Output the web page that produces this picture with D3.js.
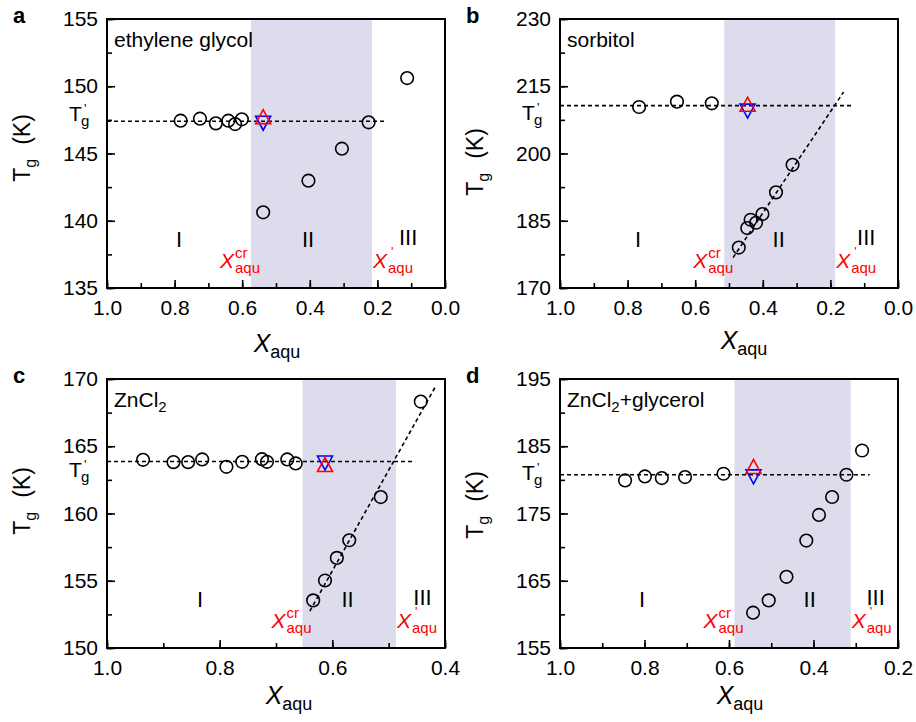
<!DOCTYPE html>
<html>
<head>
<meta charset="utf-8">
<script src="https://cdn.jsdelivr.net/npm/d3@7"></script>
<style>
  body { margin: 0; background: #fff; }
  svg text { font-family: "Liberation Sans", Arial, sans-serif; }
</style>
</head>
<body>
<div id="wrapper"></div>
<script>
// 1. Data

// a: ethylene glycol
const egX  = [0.782, 0.725, 0.678, 0.641, 0.621, 0.601, 0.538, 0.404, 0.305, 0.226, 0.112];
const egTg = [147.44, 147.59, 147.24, 147.44, 147.19, 147.54, 140.63, 142.98, 145.36, 147.32, 150.61];
const egRegion = [0.574, 0.216];
const egTgPrime = 147.4;
const egTriangle = [0.538, 147.74, 147.25]; // x, up (red), down (blue)

// b: sorbitol
const sorbX  = [0.766, 0.654, 0.551, 0.471, 0.446, 0.436, 0.420, 0.401, 0.361, 0.312];
const sorbTg = [210.37, 211.57, 211.19, 179.02, 183.36, 185.22, 184.55, 186.49, 191.33, 197.47];
const sorbRegion = [0.514, 0.186];
const sorbTgPrime = 210.68;
const sorbTriangle = [0.445, 211.0, 209.45];
const sorbFit = [[0.488, 176.78], [0.161, 213.72]];

// c: ZnCl2
const zncX  = [0.936, 0.882, 0.856, 0.831, 0.788, 0.760, 0.725, 0.716, 0.680, 0.665,
               0.634, 0.613, 0.592, 0.570, 0.514, 0.443];
const zncTg = [163.99, 163.82, 163.82, 164.02, 163.47, 163.84, 164.04, 163.84, 164.02, 163.72,
               153.54, 155.02, 156.70, 158.01, 161.22, 168.32];
const zncRegion = [0.653, 0.487];
const zncTgPrime = 163.87;
const zncTriangle = [0.613, 163.64, 163.75];
const zncFit = [[0.640, 152.74], [0.417, 169.43]];

// d: ZnCl2 + glycerol
const zgX  = [0.846, 0.799, 0.759, 0.704, 0.613, 0.543, 0.506, 0.464, 0.417, 0.387, 0.356, 0.322, 0.285];
const zgTg = [179.92, 180.51, 180.27, 180.42, 180.91, 160.25, 162.08, 165.59, 170.98, 174.79, 177.45, 180.76, 184.37];
const zgRegion = [0.587, 0.312];
const zgTgPrime = 180.76;
const zgTriangle = [0.542, 182.0, 180.44];

// axis ranges and tick steps
const xDomains = [[1, 0], [1, 0], [1, 0.4], [1, 0.2]];
const yDomains = [[135, 155], [170, 230], [150, 170], [155, 195]];
const yMajorSteps = [5, 15, 5, 10];

// region numeral positions (in X units) and Tg' line ends
const numeralX = [[0.787, 0.405, 0.109], [0.769, 0.353, 0.094], [0.835, 0.573, 0.440], [0.806, 0.409, 0.253]];
const tgLineEnd = [0.18, 0.139, 0.453, 0.267];

// 2. Dimensions

const width = 916;
const height = 722;
const boxW = 338;
const boxH = 269;

const panels = [
  { letter: "a", left: 107, top: 19,  x: egX,   y: egTg,   region: egRegion,   tg: egTgPrime,   tri: egTriangle,   fit: null,
    name: "ethylene glycol", titleDx: 1,  titleDy: 64, yTitleC: 148, tgLabelDy: 102 },
  { letter: "b", left: 560, top: 19,  x: sorbX, y: sorbTg, region: sorbRegion, tg: sorbTgPrime, tri: sorbTriangle, fit: sorbFit,
    name: "sorbitol",        titleDx: 15, titleDy: 61, yTitleC: 162, tgLabelDy: 101 },
  { letter: "c", left: 107, top: 379, x: zncX,  y: zncTg,  region: zncRegion,  tg: zncTgPrime,  tri: zncTriangle,  fit: zncFit,
    name: "ZnCl2",           titleDx: 13, titleDy: 56, yTitleC: 501, tgLabelDy: 98 },
  { letter: "d", left: 560, top: 379, x: zgX,   y: zgTg,   region: zgRegion,   tg: zgTgPrime,   tri: zgTriangle,   fit: null,
    name: "ZnCl2+glycerol",  titleDx: 11, titleDy: 56, yTitleC: 505, tgLabelDy: 101 },
];

// 3. Draw canvas

const svg = d3.select("#wrapper")
  .append("svg")
    .attr("width", width)
    .attr("height", height);

panels.forEach((p, i) => drawPanel(p, i));

function drawPanel(p, i) {
  const xScale = d3.scaleLinear().domain(xDomains[i]).range([p.left, p.left + boxW]);
  const yScale = d3.scaleLinear().domain(yDomains[i]).range([p.top + boxH, p.top]);
  const bottom = p.top + boxH;
  const g = svg.append("g");

  // shaded region II
  g.append("rect")
    .attr("x", xScale(p.region[0]))
    .attr("y", p.top)
    .attr("width", xScale(p.region[1]) - xScale(p.region[0]))
    .attr("height", boxH)
    .attr("fill", "#dcdcec");

  // dashed Tg' line
  g.append("line")
    .attr("x1", xScale(xDomains[i][0]))
    .attr("x2", xScale(tgLineEnd[i]))
    .attr("y1", yScale(p.tg))
    .attr("y2", yScale(p.tg))
    .attr("stroke", "#000")
    .attr("stroke-width", 1.6)
    .attr("stroke-dasharray", "4,3");

  // dashed fit line
  if (p.fit) {
    g.append("line")
      .attr("x1", xScale(p.fit[0][0]))
      .attr("y1", yScale(p.fit[0][1]))
      .attr("x2", xScale(p.fit[1][0]))
      .attr("y2", yScale(p.fit[1][1]))
      .attr("stroke", "#000")
      .attr("stroke-width", 1.6)
      .attr("stroke-dasharray", "4,3");
  }

  // circles
  g.selectAll("circle.pt")
    .data(d3.range(p.x.length))
    .join("circle")
      .attr("class", "pt")
      .attr("cx", k => xScale(p.x[k]))
      .attr("cy", k => yScale(p.y[k]))
      .attr("r", 6.3)
      .attr("fill", "none")
      .attr("stroke", "#000")
      .attr("stroke-width", 1.6);

  // triangles: blue down, red up
  const tw = 15, th = 14;
  const tx = xScale(p.tri[0]);
  const yDown = yScale(p.tri[2]);
  const yUp = yScale(p.tri[1]);
  g.append("path")
    .attr("d", `M${tx - tw / 2},${yDown - th / 2}L${tx + tw / 2},${yDown - th / 2}L${tx},${yDown + th / 2}Z`)
    .attr("fill", "none")
    .attr("stroke", "#0000ff")
    .attr("stroke-width", 1.6);
  g.append("path")
    .attr("d", `M${tx - tw / 2},${yUp + th / 2}L${tx + tw / 2},${yUp + th / 2}L${tx},${yUp - th / 2}Z`)
    .attr("fill", "none")
    .attr("stroke", "#ff0000")
    .attr("stroke-width", 1.6);

  // axes (ticks point inwards)
  const xMajor = d3.range(xDomains[i][1], xDomains[i][0] + 1e-9, 0.2).map(v => +v.toFixed(2));
  const xMinor = d3.range(xDomains[i][1], xDomains[i][0] + 1e-9, 0.1).map(v => +v.toFixed(2));
  const yMajor = d3.range(yDomains[i][0], yDomains[i][1] + 1e-9, yMajorSteps[i]);
  const yMinor = d3.range(yDomains[i][0], yDomains[i][1] + 1e-9, yMajorSteps[i] / 2);

  const xAxis = g.append("g")
    .attr("transform", `translate(0,${bottom})`)
    .call(d3.axisBottom(xScale).tickValues(xMajor).tickFormat(d3.format(".1f"))
      .tickSize(-8).tickSizeOuter(0).tickPadding(12));
  g.append("g")
    .attr("transform", `translate(0,${bottom})`)
    .call(d3.axisBottom(xScale).tickValues(xMinor).tickFormat("").tickSize(-5).tickSizeOuter(0));
  const yAxis = g.append("g")
    .attr("transform", `translate(${p.left},0)`)
    .call(d3.axisLeft(yScale).tickValues(yMajor).tickFormat(d3.format("d"))
      .tickSize(-8).tickSizeOuter(0).tickPadding(9));
  g.append("g")
    .attr("transform", `translate(${p.left},0)`)
    .call(d3.axisLeft(yScale).tickValues(yMinor).tickFormat("").tickSize(-5).tickSizeOuter(0));

  g.selectAll(".domain").remove();
  g.selectAll(".tick line").attr("stroke", "#000").attr("stroke-width", 1.6);
  [xAxis, yAxis].forEach(ax => ax.selectAll("text")
    .attr("font-size", 21)
    .attr("fill", "#000")
    .style("font-family", "'Liberation Sans', Arial, sans-serif"));

  // frame
  g.append("rect")
    .attr("x", p.left)
    .attr("y", p.top)
    .attr("width", boxW)
    .attr("height", boxH)
    .attr("fill", "none")
    .attr("stroke", "#000")
    .attr("stroke-width", 2);

  // panel letter
  g.append("text")
    .attr("x", p.left - 94)
    .attr("y", p.top + 4)
    .attr("font-size", 22)
    .attr("font-weight", "bold")
    .text(p.letter);

  // sample name
  const nameText = g.append("text")
    .attr("x", p.left + 7)
    .attr("y", p.top + 28)
    .attr("font-size", 21);
  if (p.name.startsWith("ZnCl2")) {
    nameText.append("tspan").text("ZnCl");
    nameText.append("tspan").attr("font-size", 15).attr("dy", 5).text("2");
    nameText.append("tspan").attr("dy", -5).text(p.name.slice(5));
  } else {
    nameText.text(p.name);
  }

  // region numerals
  ["I", "II", "III"].forEach((s, k) => {
    g.append("text")
      .attr("x", xScale(numeralX[i][k]))
      .attr("y", bottom - (k === 2 ? 43 : 41))
      .attr("text-anchor", "middle")
      .attr("font-size", 22)
      .text(s);
  });

  // red X_aqu^cr label
  const cr = g.append("g")
    .attr("transform", `translate(${xScale(p.region[0]) - 31},${bottom - 20})`)
    .attr("fill", "#ff0000");
  cr.append("text").attr("font-size", 21).attr("font-style", "italic").text("X");
  cr.append("text").attr("x", 15).attr("y", -10).attr("font-size", 15).text("cr");
  cr.append("text").attr("x", 15).attr("y", 5).attr("font-size", 15).text("aqu");

  // red X_aqu' label
  const pr = g.append("g")
    .attr("transform", `translate(${xScale(p.region[1]) + 1},${bottom - 20})`)
    .attr("fill", "#ff0000");
  pr.append("text").attr("font-size", 21).attr("font-style", "italic").text("X");
  pr.append("text").attr("x", 18).attr("y", -12).attr("font-size", 13).text("'");
  pr.append("text").attr("x", 15).attr("y", 5).attr("font-size", 15).text("aqu");

  // Tg' label next to the y axis
  const tl = g.append("g")
    .attr("transform", `translate(${p.left - 38},${p.top + p.tgLabelDy})`);
  tl.append("text").attr("font-size", 21).text("T");
  tl.append("text").attr("x", 12).attr("y", 5).attr("font-size", 15).text("g");
  tl.append("text").attr("x", 15).attr("y", -8).attr("font-size", 13).text("'");

  // x axis title
  const xt = g.append("text")
    .attr("x", p.left + boxW / 2 + p.titleDx)
    .attr("y", bottom + p.titleDy)
    .attr("text-anchor", "middle");
  xt.append("tspan").attr("font-size", 25).attr("font-style", "italic").text("X");
  xt.append("tspan").attr("font-size", 18).attr("dy", 6).text("aqu");

  // y axis title
  const yt = g.append("text")
    .attr("transform", `translate(${p.left - 77},${p.yTitleC}) rotate(-90)`)
    .attr("text-anchor", "middle");
  yt.append("tspan").attr("font-size", 23).text("T");
  yt.append("tspan").attr("font-size", 16).attr("dy", 6).text("g");
  yt.append("tspan").attr("font-size", 23).attr("dy", -6).attr("dx", 14).text("(K)");
}
</script>
</body>
</html>
